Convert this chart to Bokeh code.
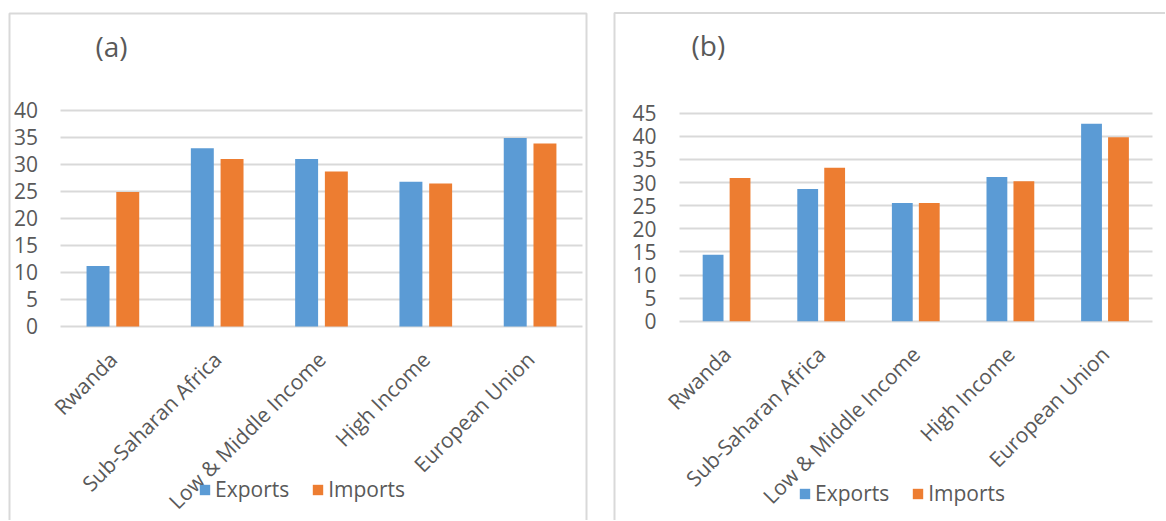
import math
from bokeh.plotting import figure
from bokeh.models import (Range1d, FixedTicker, Label, Legend, Grid,
                          LegendItem, ColumnDataSource, BoxAnnotation)
from bokeh.transform import dodge
from bokeh.layouts import row
from bokeh.embed import file_html
from bokeh.resources import INLINE

# ---- data ----
categories = ["Rwanda", "Sub-Saharan Africa", "Low & Middle Income",
              "High Income", "European Union"]
exports_a = [11.2, 33.0, 31.0, 26.8, 34.9]
imports_a = [24.9, 31.0, 28.7, 26.5, 33.9]
exports_b = [14.4, 28.6, 25.6, 31.2, 42.7]
imports_b = [31.0, 33.2, 25.6, 30.3, 39.8]
ticks_a = [0, 5, 10, 15, 20, 25, 30, 35, 40]
ticks_b = [0, 5, 10, 15, 20, 25, 30, 35, 40, 45]
series_names = ["Exports", "Imports"]
titles = ["(a)", "(b)"]

BLUE = "#5B9BD5"
ORANGE = "#ED7D31"
TEXT = "#595959"
GRID = "#D9D9D9"
FONT = "Open Sans"

HAS_CROSS = "cross_bounds" in Grid.properties()


def make_panel(exp, imp, ticks, title, width, height, xr, yr,
               title_xy, legend_xy, box):
    # category slots are 1 unit wide, centred at i + 0.5
    xs = [i + 0.5 for i in range(len(categories))]
    src = ColumnDataSource(dict(x=xs, cat=categories, exp=exp, imp=imp))
    p = figure(x_range=Range1d(*xr), y_range=Range1d(*yr),
               width=width, height=height,
               output_backend="svg", toolbar_location=None,
               min_border_left=0, min_border_right=0,
               min_border_top=0, min_border_bottom=0)
    p.outline_line_color = None
    p.background_fill_color = "white"
    p.border_fill_color = "white"

    # horizontal gridlines limited to the category area
    p.xgrid.grid_line_color = None
    if HAS_CROSS:
        p.ygrid.grid_line_color = GRID
        p.ygrid.grid_line_width = 2
        p.ygrid.cross_bounds = (0, len(categories))
    else:
        p.ygrid.grid_line_color = None
        p.segment(x0=[0] * len(ticks), x1=[len(categories)] * len(ticks),
                  y0=ticks, y1=ticks, line_color=GRID, line_width=2)

    r1 = p.vbar(x=dodge("x", -0.145), top="exp",
                width=0.22, source=src, fill_color=BLUE, line_color=None)
    r2 = p.vbar(x=dodge("x", 0.14), top="imp",
                width=0.22, source=src, fill_color=ORANGE, line_color=None)

    # axes
    p.yaxis.ticker = FixedTicker(ticks=ticks)
    p.xaxis.ticker = FixedTicker(ticks=xs)
    p.xaxis.major_label_overrides = {x: c for x, c in zip(xs, categories)}
    for ax in (p.xaxis, p.yaxis):
        ax.axis_line_color = None
        ax.major_tick_line_color = None
        ax.minor_tick_line_color = None
        ax.major_tick_out = 0
        ax.major_tick_in = 0
        ax.major_label_text_color = TEXT
        ax.major_label_text_font = FONT
        ax.major_label_text_font_size = "21px"
        ax.fixed_location = 0
    p.yaxis.major_label_standoff = 23
    p.xaxis.major_label_orientation = math.pi / 4
    p.xaxis.major_label_standoff = 29

    # chart-area border (screen units, relative to the frame)
    p.add_layout(BoxAnnotation(left=box[0], right=box[1], top=box[2],
                               bottom=-20, left_units="screen",
                               right_units="screen", top_units="screen",
                               bottom_units="screen", fill_alpha=0,
                               line_color=GRID, line_width=2,
                               line_alpha=1, level="underlay"))

    # panel title
    p.add_layout(Label(x=title_xy[0], y=title_xy[1], x_units="screen",
                       y_units="screen", text=title, text_font=FONT,
                       text_font_size="28px", text_color=TEXT,
                       text_baseline="middle", text_align="left"))

    legend = Legend(items=[LegendItem(label=series_names[0], renderers=[r1]),
                           LegendItem(label=series_names[1], renderers=[r2])],
                    location=legend_xy, orientation="horizontal",
                    background_fill_alpha=0, border_line_alpha=0,
                    padding=0, margin=0, spacing=22, label_standoff=4,
                    glyph_width=13, glyph_height=13,
                    label_text_font=FONT, label_text_font_size="21px",
                    label_text_color=TEXT)
    p.add_layout(legend)
    return p


H = 520
pa = make_panel(exports_a, imports_a, ticks_a, titles[0],
                width=590, height=H, xr=(-0.580, 5.0767), yr=(-35.93, 60.37),
                title_xy=(95, 474.5), legend_xy=(198, 17),
                box=(9, 586, H - 13))
pb = make_panel(exports_b, imports_b, ticks_b, titles[1],
                width=553, height=H, xr=(-0.7082, 5.137), yr=(-43.05, 69.36),
                title_xy=(79, 476), legend_xy=(186, 13),
                box=(2, 600, H - 12.5))

layout = row(pa, pb, spacing=22)
open("out.html", "w").write(file_html(layout, INLINE))
